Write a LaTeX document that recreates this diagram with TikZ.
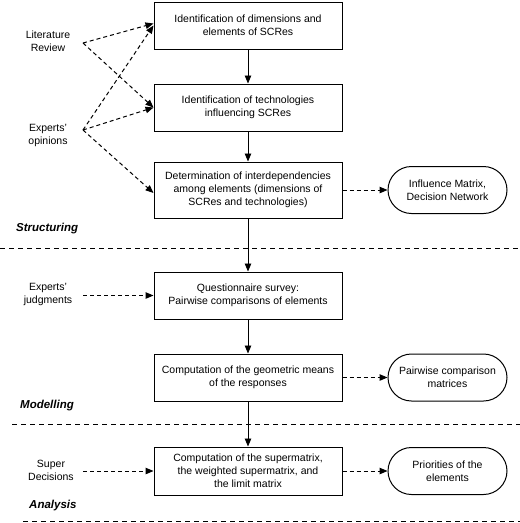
\documentclass[tikz,border=0pt]{standalone}
\usepackage{fontspec}
\setmainfont{Liberation Sans}
\usetikzlibrary{arrows.meta,shapes.misc}
\begin{document}
\begin{tikzpicture}[x=1pt,y=-1pt,
  every node/.style={font=\fontsize{10.5}{13}\selectfont, align=center, inner sep=0pt},
  procbox/.style={draw, line width=1pt, minimum width=188pt},
  outbox/.style={draw, line width=1pt, rounded rectangle, minimum width=119pt, minimum height=47pt},
  lbl/.style={},
  phase/.style={font=\fontsize{11.5}{13}\selectfont\bfseries\itshape, anchor=west},
  solidarrow/.style={line width=0.9pt, -{Triangle[length=8pt,width=6.5pt]}},
  dasharrow/.style={line width=1pt, dash pattern=on 4pt off 3pt, -{Triangle[length=8pt,width=6.5pt]}},
  sep/.style={line width=0.9pt, dash pattern=on 5pt off 4pt}
]
\useasboundingbox (0,0) rectangle (520,523);

\node[procbox, minimum height=47pt] (b1) at (248,25.5) {Identification of dimensions and\\elements of SCRes};
\node[procbox, minimum height=47pt] (b2) at (248,107.5) {Identification of technologies\\influencing SCRes};
\node[procbox, minimum height=56pt] (b3) at (248,190) {Determination of interdependencies\\among elements (dimensions of\\SCRes and technologies)};
\node[procbox, minimum height=47pt] (b4) at (248,295.5) {Questionnaire survey:\\Pairwise comparisons of elements};
\node[procbox, minimum height=47pt] (b5) at (248,377.5) {Computation of the geometric means\\of the responses};
\node[procbox, minimum height=48pt] (b6) at (248,471) {Computation of the supermatrix,\\the weighted supermatrix, and\\the limit matrix};

\node[outbox] (o1) at (447.5,190) {Influence Matrix,\\Decision Network};
\node[outbox] (o2) at (447.5,377.5) {Pairwise comparison\\matrices};
\node[outbox] (o3) at (447.5,471) {Priorities of the\\elements};

\node[lbl] (lit) at (48,41.5) {Literature\\Review};
\node[lbl] (exp) at (48,135) {Experts'\\opinions};
\node[lbl] (jud) at (48,294.5) {Experts'\\judgments};
\node[lbl] (sup) at (51,470.5) {Super\\Decisions};

\coordinate (litR) at (83,43);
\coordinate (expR) at (83,130);
\coordinate (judR) at (83,295.5);
\coordinate (supR) at (83,471);

\node[phase] (ph1) at (16,229) {Structuring};
\node[phase] (ph2) at (20,406) {Modelling};
\node[phase] (ph3) at (29,506) {Analysis};

\coordinate (s1a) at (0,248); \coordinate (s1b) at (520,248);
\coordinate (s2a) at (12,424); \coordinate (s2b) at (520,424);
\coordinate (s3a) at (23,521.5); \coordinate (s3b) at (520,521.5);
\draw[sep] (s1a) -- (s1b);
\draw[sep] (s2a) -- (s2b);
\draw[sep] (s3a) -- (s3b);

\draw[solidarrow] (b1) -- (b2);
\draw[solidarrow] (b2) -- (b3);
\draw[solidarrow] (b3) -- (b4);
\draw[solidarrow] (b4) -- (b5);
\draw[solidarrow] (b5) -- (b6);

\draw[dasharrow] (litR) -- ([yshift=2pt]b1.west);
\draw[dasharrow] (expR) -- ([yshift=0pt]b1.west);
\draw[dasharrow] (litR) -- (b2.west);
\draw[dasharrow] (expR) -- (b2.west);
\draw[dasharrow] (expR) -- ([yshift=-3pt]b3.west);
\draw[dasharrow] (judR) -- (b4.west);
\draw[dasharrow] (supR) -- (b6.west);

\draw[dasharrow] (b3) -- (o1);
\draw[dasharrow] (b5) -- (o2);
\draw[dasharrow] (b6) -- (o3);
\end{tikzpicture}
\end{document}
